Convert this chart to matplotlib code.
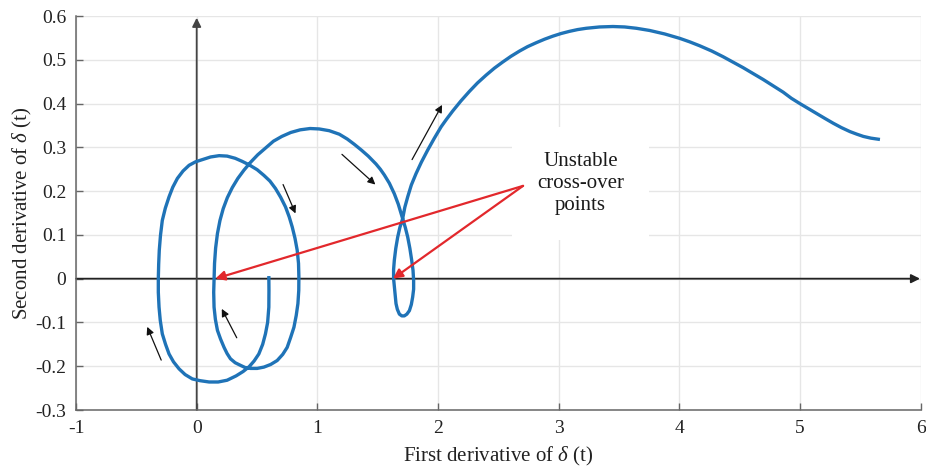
import matplotlib
matplotlib.use("Agg")
import matplotlib.pyplot as plt

plt.rcParams['font.family'] = ['Liberation Serif', 'DejaVu Serif']
plt.rcParams['mathtext.fontset'] = 'custom'
plt.rcParams['mathtext.rm'] = 'Liberation Serif'
plt.rcParams['mathtext.it'] = 'Liberation Serif:italic'

# ---- data (trajectory in phase plane) ----
traj_x = [0.598, 0.599, 0.598, 0.588, 0.570, 0.547, 0.515, 0.476, 0.435, 0.385,
          0.327, 0.252, 0.178, 0.103, 0.028, -0.036, -0.096, -0.146, -0.192, -0.229,
          -0.258, -0.285, -0.302, -0.312, -0.318, -0.318, -0.315, -0.310, -0.300, -0.285,
          -0.260, -0.229, -0.198, -0.160, -0.113, -0.063, -0.009, 0.047, 0.115, 0.186,
          0.252, 0.319, 0.377, 0.435, 0.501, 0.557, 0.607, 0.653, 0.696, 0.736,
          0.767, 0.792, 0.815, 0.833, 0.844, 0.847, 0.846, 0.839, 0.825, 0.806,
          0.779, 0.750, 0.713, 0.667, 0.613, 0.557, 0.501, 0.446, 0.402, 0.363,
          0.319, 0.280, 0.252, 0.227, 0.198, 0.172, 0.155, 0.144, 0.141, 0.144,
          0.148, 0.157, 0.172, 0.193, 0.220, 0.254, 0.295, 0.341, 0.392, 0.447,
          0.506, 0.569, 0.636, 0.706, 0.780, 0.858, 0.940, 1.016, 1.099,
          1.182, 1.248, 1.306, 1.364, 1.422, 1.486, 1.522, 1.555, 1.597, 1.638,
          1.671, 1.707, 1.729, 1.749, 1.767, 1.782, 1.793, 1.798, 1.798, 1.790,
          1.779, 1.763, 1.742, 1.721, 1.700, 1.680, 1.663, 1.652, 1.641, 1.632,
          1.632, 1.638, 1.650, 1.666, 1.684, 1.707, 1.725, 1.749, 1.779, 1.818,
          1.862, 1.915, 1.970, 2.026, 2.070, 2.122, 2.190, 2.261, 2.327, 2.399,
          2.468, 2.537, 2.605, 2.676, 2.742, 2.814, 2.883, 2.952, 3.020, 3.090,
          3.157, 3.229, 3.339, 3.450, 3.547, 3.644, 3.754, 3.879, 4.003, 4.086,
          4.169, 4.269, 4.363, 4.443, 4.529, 4.609, 4.695, 4.775, 4.861, 4.929,
          4.999, 5.066, 5.138, 5.207, 5.276, 5.344, 5.414, 5.472, 5.525, 5.588,
          5.663]
traj_y = [0.006, -0.027, -0.065, -0.100, -0.126, -0.150, -0.172, -0.188, -0.201, -0.212,
          -0.222, -0.232, -0.236, -0.236, -0.233, -0.229, -0.219, -0.206, -0.190, -0.172,
          -0.150, -0.126, -0.095, -0.065, -0.031, 0.000, 0.033, 0.065, 0.099, 0.133,
          0.161, 0.187, 0.209, 0.229, 0.246, 0.259, 0.267, 0.272, 0.278, 0.281,
          0.280, 0.275, 0.268, 0.260, 0.249, 0.236, 0.223, 0.206, 0.186, 0.164,
          0.141, 0.118, 0.092, 0.065, 0.035, 0.004, -0.027, -0.057, -0.084, -0.111,
          -0.134, -0.157, -0.173, -0.187, -0.196, -0.202, -0.205, -0.205, -0.203, -0.198,
          -0.192, -0.183, -0.171, -0.157, -0.138, -0.118, -0.093, -0.065, -0.031, 0.000,
          0.035, 0.070, 0.103, 0.133, 0.160, 0.185, 0.208, 0.229, 0.248, 0.266,
          0.283, 0.298, 0.314, 0.325, 0.334, 0.340, 0.343, 0.342, 0.338,
          0.330, 0.319, 0.307, 0.294, 0.280, 0.262, 0.250, 0.237, 0.218, 0.194,
          0.170, 0.137, 0.117, 0.095, 0.069, 0.042, 0.019, -0.004, -0.024, -0.042,
          -0.059, -0.073, -0.081, -0.085, -0.085, -0.081, -0.070, -0.057, -0.027, 0.000,
          0.021, 0.042, 0.069, 0.095, 0.117, 0.137, 0.163, 0.187, 0.214, 0.240,
          0.266, 0.294, 0.321, 0.347, 0.364, 0.383, 0.406, 0.428, 0.447, 0.465,
          0.481, 0.495, 0.508, 0.520, 0.530, 0.539, 0.547, 0.554, 0.560, 0.565,
          0.569, 0.572, 0.575, 0.576, 0.575, 0.572, 0.567, 0.559, 0.549, 0.541,
          0.532, 0.520, 0.507, 0.495, 0.482, 0.469, 0.455, 0.441, 0.426, 0.412,
          0.400, 0.389, 0.377, 0.366, 0.355, 0.345, 0.336, 0.330, 0.325, 0.321,
          0.318]

# direction arrows
dir_tail_x = [-0.294, 0.332, 0.716, 1.204, 1.785]
dir_tail_y = [-0.186, -0.135, 0.215, 0.284, 0.272]
dir_head_x = [-0.410, 0.208, 0.819, 1.481, 2.034]
dir_head_y = [-0.110, -0.069, 0.149, 0.215, 0.397]

# unstable cross-over points (arrow targets)
cross_x = [0.155, 1.627]
cross_y = [0.0, 0.0]
label_anchor = (2.705, 0.212)
label_text = "Unstable\ncross-over\npoints"

xticks = [-1, 0, 1, 2, 3, 4, 5, 6]
xtick_labels = ['-1', '0', '1', '2', '3', '4', '5', '6']
yticks = [-0.3, -0.2, -0.1, 0, 0.1, 0.2, 0.3, 0.4, 0.5, 0.6]
ytick_labels = ['-0.3', '-0.2', '-0.1', '0', '0.1', '0.2', '0.3', '0.4', '0.5', '0.6']

# ---- figure ----
fig = plt.figure(figsize=(9.26, 4.71), dpi=100)
ax = fig.add_axes([0.0821, 0.1295, 0.9121, 0.8365])
ax.set_xlim(-1, 6)
ax.set_ylim(-0.3, 0.6)

ax.set_xticks(xticks)
ax.set_xticklabels(xtick_labels)
ax.set_yticks(yticks)
ax.set_yticklabels(ytick_labels)
ax.tick_params(direction='in', length=5, width=1, color='#666666',
               labelsize=14, labelcolor='#222222')
ax.tick_params(axis='x', pad=7)
ax.tick_params(axis='y', pad=7)

ax.grid(True, color='#e6e6e6', lw=1)
ax.set_axisbelow(True)
for s in ['top', 'right']:
    ax.spines[s].set_visible(False)
for s in ['left', 'bottom']:
    ax.spines[s].set_color('#666666')
    ax.spines[s].set_linewidth(1.1)

# coordinate axes with arrows
ax.annotate('', xy=(5.995, 0), xytext=(-1, 0),
            arrowprops=dict(arrowstyle='-|>', color='#222222', lw=1.3,
                            mutation_scale=13, shrinkA=0, shrinkB=0), zorder=2)
ax.annotate('', xy=(0, 0.596), xytext=(0, -0.3),
            arrowprops=dict(arrowstyle='-|>', color='#444444', lw=1.3,
                            mutation_scale=13, shrinkA=0, shrinkB=0), zorder=2)

# trajectory
ax.plot(traj_x, traj_y, color='#1f73b7', lw=2.4, solid_joinstyle='round',
        solid_capstyle='butt', zorder=4)

# direction arrows
for tx, ty, hx, hy in zip(dir_tail_x, dir_tail_y, dir_head_x, dir_head_y):
    ax.annotate('', xy=(hx, hy), xytext=(tx, ty),
                arrowprops=dict(arrowstyle='-|>', color='#111111', lw=0.9,
                                mutation_scale=11, shrinkA=0, shrinkB=0), zorder=5)

# label with white box
ax.text(3.182, 0.218, label_text, ha='center', va='center', fontsize=15,
        color='#1a1a1a', linespacing=1.2, zorder=3,
        bbox=dict(boxstyle='square,pad=1.2', facecolor='white', edgecolor='none'))

# red arrows
for cx, cy in zip(cross_x, cross_y):
    ax.annotate('', xy=(cx, cy), xytext=label_anchor,
                arrowprops=dict(arrowstyle='-|>', color='#e2282c', lw=1.6,
                                mutation_scale=14, shrinkA=0, shrinkB=0), zorder=6)

ax.set_xlabel(r'First derivative of $\delta$ (t)', fontsize=15, color='#222222', labelpad=6)
ax.set_ylabel(r'Second derivative of $\delta$ (t)', fontsize=15, color='#222222', labelpad=1)

fig.savefig('out.png', dpi=100)
